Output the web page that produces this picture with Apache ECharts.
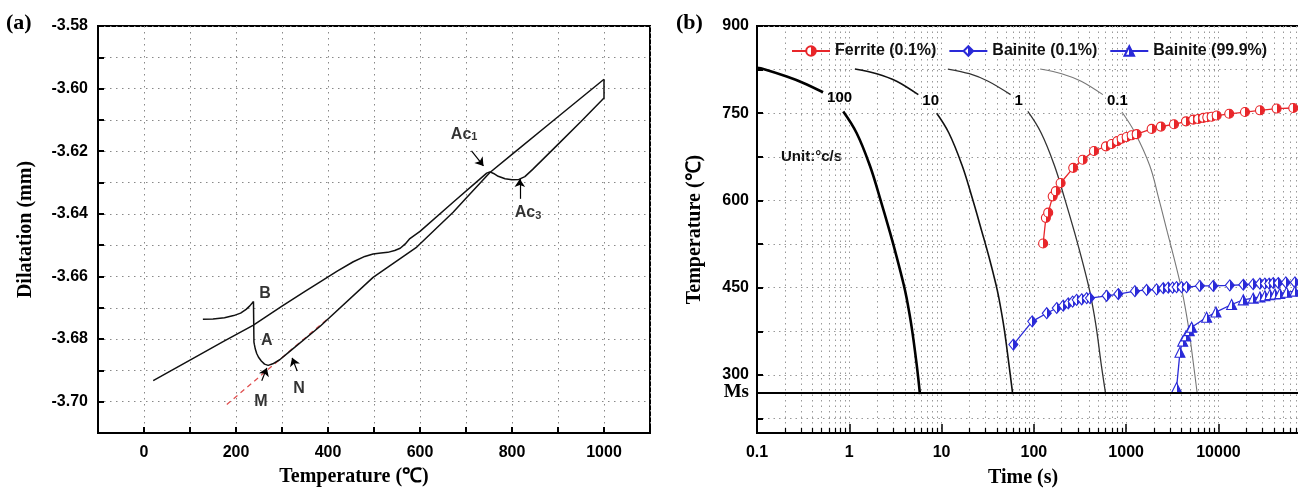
<!DOCTYPE html>
<html>
<head>
<meta charset="utf-8">
<script src="https://cdn.jsdelivr.net/npm/echarts@6/dist/echarts.min.js"></script>
<style>
html,body{margin:0;padding:0;background:#fff;}
#chart{width:1298px;height:492px;}
</style>
</head>
<body>
<div id="chart"></div>
<script>
// ---------- panel (a): dilatation vs temperature ----------
var heatingCurve = [[20,-3.6933],[100,-3.6867],[170,-3.6810],[237,-3.6756],[300,-3.6695],[350,-3.6648],
  [383,-3.6617],[420,-3.6583],[455,-3.6553],[480,-3.6536],[498,-3.6528],[515,-3.6525],[530,-3.6523],
  [545,-3.6517],[557,-3.6510],[568,-3.6496],[578,-3.6479],[600,-3.6456],[672,-3.6363],[730,-3.6289],
  [745,-3.6270],[752,-3.6266],[760,-3.6271],[770,-3.6280],[785,-3.6288],[800,-3.6291],[815,-3.6290],
  [828,-3.6281],[845,-3.6258],[900,-3.6178],[950,-3.6105],[1000,-3.6030],[1000,-3.5970]];
var coolingCurve = [[1000,-3.5970],[900,-3.6090],[800,-3.6210],[752,-3.6268],[700,-3.6350],[672,-3.6395],
  [593,-3.6506],[498,-3.6603],[383,-3.6759],[313,-3.6844],[295,-3.6866],[280,-3.6879],[270,-3.6884],
  [262,-3.6880],[255,-3.6870],[249,-3.6858],[245,-3.6846],[242,-3.6832],[240,-3.6818],[239,-3.6810],
  [238,-3.6680],[235,-3.6686],[230,-3.6694],[222,-3.6705],[210,-3.6717],[195,-3.6725],[175,-3.6732],
  [150,-3.6736],[128,-3.6737]];
var tangentLine = [[180,-3.7009],[401,-3.6733]];
var pointNames = ['B','A','M','N','Ac1','Ac3'];
var pointSpots = [[263,-3.6654],[267,-3.6806],[254,-3.7000],[337,-3.6959],[696,-3.6146],[835,-3.6397]];
var arrowFrom = [[256,-3.6933],[333,-3.6902],[712,-3.6199],[817,-3.6352]];
var arrowTo = [[267,-3.6892],[322,-3.6860],[738,-3.6247],[817,-3.6289]];

// ---------- panel (b): CCT diagram ----------
var rateNames = ['100','10','1','0.1'];
var rate100Top = [[0.1,828],[0.117,826],[0.21,813],[0.318,802],[0.52,786]];
var rate100Low = [[0.86,753],[1.2,716],[1.67,660],[2.15,604],[2.76,545],[3.26,503],[3.85,458],[4.18,432],[4.74,382],[5.37,318],[5.83,267]];
var rate10Top = [[1.15,826],[1.98,818],[3.26,805],[5.6,782]];
var rate10Low = [[8.85,750],[12,716],[16.7,660],[21.5,604],[27.5,545],[32.6,503],[38.5,458],[41.8,432],[47.4,382],[53.7,318],[59,267]];
var rate1Top = [[11.7,826],[20,818],[32,805],[56,782]];
var rate1Low = [[86,753],[120,716],[167,660],[215,604],[276,545],[326,503],[385,458],[418,432],[474,382],[537,318],[600,267]];
var rate01Top = [[117,826],[200,818],[326,805],[560,782]];
var rate01Low = [[900,752],[1250,716],[1800,660],[2250,604],[2800,545],[3280,503],[3850,458],[4180,432],[4740,382],[5370,318],[5900,267]];

var ferrite01 = [[126,526],[135,570],[143,579],[160,607],[173,616],[195,630],[267,656],[338,670],[448,685],
  [604,693],[697,697],[802,702],[894,706],[1012,709],[1147,712],[1300,714],[1890,723],[2380,727],[3300,731],
  [4450,736],[5340,739],[6050,740],[6860,742],[7570,743],[8440,744],[9570,746],[13100,749],[19400,752],
  [28200,755],[42700,758],[64700,759],[95000,761]];
var bainite01 = [[60,352],[96,392],[138,406],[177,415],[208,419],[236,423],[263,426],[291,429],[330,430],
  [374,432],[406,432],[615,436],[822,439],[1245,444],[1667,446],[2140,447],[2525,449],[2860,450],[3190,450],
  [3520,451],[3990,451],[4520,451],[6300,453],[8800,453],[13300,454],[18600,455],[23800,456],[28200,457],
  [31900,457],[35500,457],[39200,458],[44500,458],[53800,459],[67500,459],[95000,460]];
var bainite999 = [[3520,278],[3830,339],[4100,358],[4440,367],[4830,376],[5130,382],[7450,399],[9400,408],
  [13900,421],[18600,429],[23800,432],[28200,434],[31900,436],[36100,438],[41000,439],[46300,440],
  [54700,442],[67400,444],[95000,447]];
var MS = 270;
var tempTicks = [225,300,375,450,525,600,675,750,825,900];
var tempLabels = [MS,300,450,600,750,900];
var timeMinor = [];
[0.1,1,10,100,1000,10000,100000].forEach(function(d){
  for (var k = 2; k <= 9; k++) timeMinor.push(+(d*k).toPrecision(3));
});

var SANS = 'Liberation Sans, Arial, sans-serif';
var SERIF = 'Liberation Serif, Times New Roman, serif';

function halfFill(c){
  return new echarts.graphic.LinearGradient(0,0,1,0,[
    {offset:0,color:'#fff'},{offset:0.5,color:'#fff'},{offset:0.5,color:c},{offset:1,color:c}]);
}

var myChart = echarts.init(document.getElementById('chart'));

var tickLbl = {color:'#000', fontFamily:SANS, fontWeight:'bold', fontSize:16};
var nameLbl = {color:'#000', fontFamily:SERIF, fontWeight:'bold', fontSize:20};

var curveStyles = [
  {top:rate100Top, low:rate100Low, w:2.6, c:'#000'},
  {top:rate10Top, low:rate10Low, w:1.6, c:'#111'},
  {top:rate1Top, low:rate1Low, w:1.3, c:'#333'},
  {top:rate01Top, low:rate01Low, w:1.1, c:'#777'}
];

var series = [
  {type:'line', xAxisIndex:0, yAxisIndex:0, data:tangentLine, symbol:'none', silent:true,
    lineStyle:{color:'#e05050', width:1.3, type:[5,4]}},
  {type:'line', xAxisIndex:0, yAxisIndex:0, data:heatingCurve, symbol:'none', silent:true,
    lineStyle:{color:'#111', width:1.5}},
  {type:'line', xAxisIndex:0, yAxisIndex:0, data:coolingCurve, symbol:'none', silent:true,
    lineStyle:{color:'#111', width:1.5}},
  {type:'scatter', xAxisIndex:0, yAxisIndex:0, symbolSize:0, silent:true,
    data:pointNames.map(function(n,i){ return {name:n, value:pointSpots[i]}; }),
    label:{show:true, position:'inside', color:'#000', fontFamily:SANS, fontWeight:'bold', fontSize:16,
      formatter:function(p){ return p.name.length > 2 ? 'Ac{s|' + p.name.slice(2) + '}' : p.name; },
      rich:{s:{fontFamily:SANS, fontWeight:'bold', fontSize:11, verticalAlign:'bottom', padding:[6,0,0,0]}}},
    markLine:{silent:true, symbol:['none','arrow'], symbolSize:8, label:{show:false},
      lineStyle:{color:'#000', width:1.2, type:'solid'},
      data:arrowFrom.map(function(f,i){ return [{coord:f},{coord:arrowTo[i]}]; })}}
];

curveStyles.forEach(function(cs, i){
  series.push({type:'line', xAxisIndex:1, yAxisIndex:1, data:cs.top, symbol:'none', smooth:0.3, silent:true,
    lineStyle:{color:cs.c, width:cs.w},
    endLabel:{show:true, formatter:rateNames[i], distance:4, offset:[0,6], color:'#000',
      fontFamily:SANS, fontWeight:'bold', fontSize:15}});
  var low = {type:'line', xAxisIndex:1, yAxisIndex:1, data:cs.low, symbol:'none', smooth:0.4, silent:true,
    lineStyle:{color:cs.c, width:cs.w}};
  if (i === 0) {
    low.markLine = {silent:true, symbol:'none', label:{show:false},
      lineStyle:{color:'#000', width:2, type:'solid'}, data:[{yAxis:MS}]};
  }
  series.push(low);
});

function markerSeries(name, data, symbol, color, size){
  return {name:name, type:'line', xAxisIndex:1, yAxisIndex:1, data:data, symbol:symbol, symbolSize:size,
    lineStyle:{color:color, width:1.3},
    itemStyle:{color:halfFill(color), borderColor:color, borderWidth:1.1}};
}
series.push(markerSeries('Ferrite (0.1%)', ferrite01, 'circle', '#e8262a', 9));
series.push(markerSeries('Bainite (0.1%)', bainite01, 'diamond', '#2a2ad8', [9,11]));
series.push(markerSeries('Bainite (99.9%)', bainite999, 'triangle', '#2a2ad8', [10,10]));

var option = {
  animation:false,
  backgroundColor:'#fff',
  grid:[
    {left:98, top:26, width:552, height:407, show:true, borderColor:'#000', borderWidth:2, outerBoundsMode:'none', containLabel:false},
    {left:757, top:26, width:646, height:407, show:true, borderColor:'#000', borderWidth:2, outerBoundsMode:'none', containLabel:false}
  ],
  legend:{left:786, top:38, itemWidth:38, itemHeight:12, itemGap:12,
    data:['Ferrite (0.1%)','Bainite (0.1%)','Bainite (99.9%)'],
    textStyle:{color:'#111', fontFamily:SANS, fontWeight:'bold', fontSize:16}},
  xAxis:[
    {type:'value', gridIndex:0, min:-100, max:1100, interval:100,
      name:'Temperature (℃)', nameLocation:'middle', nameGap:34, nameTextStyle:Object.assign({padding:[0,40,0,0]}, nameLbl),
      axisLine:{onZero:false, lineStyle:{color:'#000', width:2}},
      axisTick:{inside:true, length:6, lineStyle:{color:'#000', width:2}},
      axisLabel:Object.assign({margin:12, formatter:function(v){ return (v % 200 === 0 && v >= 0 && v <= 1000) ? String(v) : ''; }}, tickLbl),
      splitLine:{show:true, lineStyle:{color:'#888', width:1, type:[1.5,4.5]}}},
    {type:'log', gridIndex:1, min:0.1, max:1000000, logBase:10, interval:1,
      axisLine:{onZero:false, lineStyle:{color:'#000', width:2}},
      axisTick:{inside:true, length:9, lineStyle:{color:'#000', width:1.5}},
      axisLabel:Object.assign({margin:12, formatter:function(v){ return v >= 100000 ? '' : String(+v.toPrecision(6)); }}, tickLbl),
      splitLine:{show:true, lineStyle:{color:'#999', width:1, type:[1.5,4]}}},
    {type:'log', gridIndex:1, min:0.1, max:1000000, logBase:10, position:'bottom',
      axisLine:{show:false, onZero:false}, axisLabel:{show:false},
      axisTick:{inside:true, length:5, customValues:timeMinor, lineStyle:{color:'#000', width:1.2}},
      splitLine:{show:true, lineStyle:{color:'#999', width:1, type:[1.5,4]}}}
  ],
  yAxis:[
    {type:'value', gridIndex:0, min:-3.71, max:-3.58, interval:0.01,
      name:'Dilatation (mm)', nameLocation:'middle', nameGap:62, nameTextStyle:nameLbl,
      axisLine:{onZero:false, lineStyle:{color:'#000', width:2}},
      axisTick:{inside:true, length:6, lineStyle:{color:'#000', width:2}},
      axisLabel:Object.assign({margin:10, formatter:function(v){ var n = Math.round(v*100); return (n % 2 === 0 && n >= -370) ? (n/100).toFixed(2) : ''; }}, tickLbl),
      splitLine:{show:true, lineStyle:{color:'#888', width:1, type:[1.5,4.5]}}},
    {type:'value', gridIndex:1, min:200, max:900,
      name:'Temperature (℃)', nameLocation:'middle', nameGap:52, nameTextStyle:nameLbl,
      axisLine:{onZero:false, lineStyle:{color:'#000', width:2}},
      axisTick:{inside:true, length:6, customValues:tempTicks, lineStyle:{color:'#000', width:2}},
      axisLabel:Object.assign({margin:8, customValues:tempLabels,
        formatter:function(v){ return v === MS ? '{ms|Ms}' : String(v); },
        rich:{ms:{fontFamily:SERIF, fontWeight:'bold', fontSize:19, color:'#000'}}}, tickLbl),
      splitLine:{show:true, lineStyle:{color:'#999', width:1, type:[1.5,4]}}}
  ],
  graphic:[
    {type:'text', left:6, top:12, style:{text:'(a)', font:'bold 22px ' + SERIF, fill:'#000'}},
    {type:'text', left:676, top:12, style:{text:'(b)', font:'bold 22px ' + SERIF, fill:'#000'}},
    {type:'text', left:781, top:149, style:{text:'Unit:°c/s', font:'bold 15px ' + SANS, fill:'#111'}},
    {type:'text', left:988, top:468, style:{text:'Time (s)', font:'bold 20px ' + SERIF, fill:'#000'}}
  ],
  series:series
};
myChart.setOption(option);
</script>
</body>
</html>
